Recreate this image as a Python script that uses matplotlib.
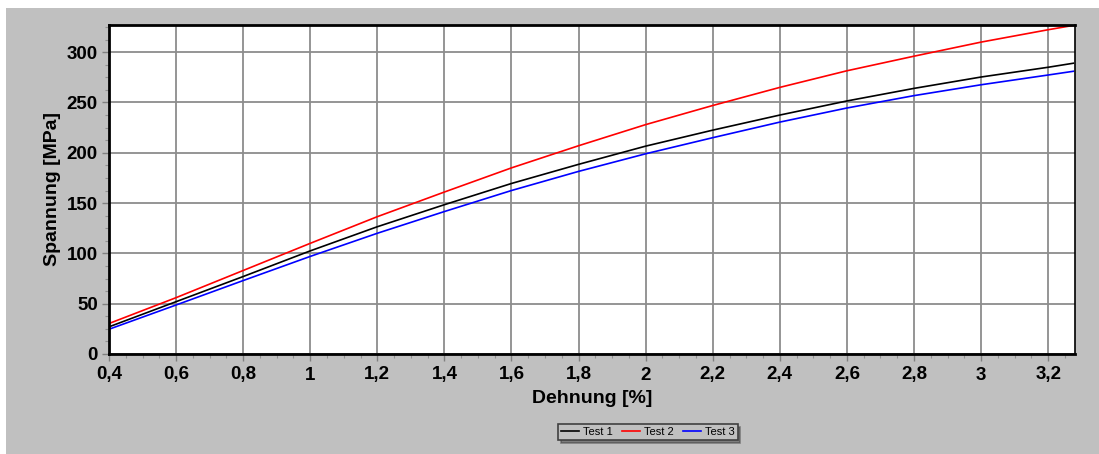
import matplotlib
matplotlib.use("Agg")
import matplotlib.pyplot as plt
from matplotlib.patches import Rectangle
from matplotlib.ticker import MultipleLocator

plt.rcParams['font.family'] = ['Liberation Sans', 'DejaVu Sans']

# Data
strain = [0.4, 0.6, 0.8, 1.0, 1.2, 1.4, 1.6, 1.8, 2.0, 2.2, 2.4, 2.6, 2.8, 3.0, 3.2, 3.275]
test1 = [27, 52, 77, 102.5, 126.5, 148.4, 169.5, 188.5, 206.6, 222.5, 237.5, 251.5, 264, 275.3, 285, 289]
test2 = [30.3, 56, 83, 110, 136.5, 161, 185, 207, 228, 247, 265, 281.5, 296, 310, 322.3, 326.6]
test3 = [24.6, 48.7, 73, 97, 120, 141.6, 162.5, 181.5, 199, 215, 230.5, 244.5, 256.8, 267.6, 277.3, 281]

x_ticks = [0.4, 0.6, 0.8, 1.0, 1.2, 1.4, 1.6, 1.8, 2.0, 2.2, 2.4, 2.6, 2.8, 3.0, 3.2]
x_labels = ['0,4', '0,6', '0,8', '1', '1,2', '1,4', '1,6', '1,8', '2', '2,2', '2,4', '2,6', '2,8', '3', '3,2']
y_ticks = [0, 50, 100, 150, 200, 250, 300]

W, H = 1099, 454
fig = plt.figure(figsize=(W / 100, H / 100), dpi=100, facecolor='white')
fig.patches.append(Rectangle((6 / W, 0), 1 - 6 / W, 1 - 8 / H, transform=fig.transFigure,
                             facecolor='#c0c0c0', edgecolor='none', zorder=-10))

ax = fig.add_axes([109 / W, (H - 354) / H, (1075 - 109) / W, (354 - 25) / H])
ax.set_facecolor('white')

ax.plot(strain, test1, color='black', lw=1.2, label='Test 1')
ax.plot(strain, test2, color='#ff0000', lw=1.2, label='Test 2')
ax.plot(strain, test3, color='#0000ff', lw=1.2, label='Test 3')

ax.set_xlim(0.4, 3.28)
ax.set_ylim(0, 327)
ax.set_xticks(x_ticks)
ax.set_xticklabels(x_labels)
ax.set_yticks(y_ticks)
ax.xaxis.set_minor_locator(MultipleLocator(0.05))
ax.yaxis.set_minor_locator(MultipleLocator(12.5))

ax.grid(True, which='major', color='#8c8c8c', lw=1.3)
ax.set_axisbelow(True)

for lab in ax.get_xticklabels() + ax.get_yticklabels():
    lab.set_fontweight('bold')
ax.tick_params(axis='both', which='major', labelsize=13.5, length=5, width=1, color='#808080', direction='out')
ax.tick_params(axis='both', which='minor', length=3, width=0.8, color='#909090', direction='out')
ax.tick_params(axis='x', pad=4)
ax.tick_params(axis='y', pad=3)

for side in ['left', 'bottom', 'top']:
    ax.spines[side].set_linewidth(2)
    ax.spines[side].set_color('black')
ax.spines['right'].set_linewidth(1.2)
ax.spines['right'].set_color('black')

ax.set_xlabel('Dehnung [%]', fontsize=14, fontweight='bold', labelpad=5)
ax.set_ylabel('Spannung [MPa]', fontsize=14, fontweight='bold', labelpad=4)

leg = fig.legend(loc='center', bbox_to_anchor=(648 / W, 1 - 432 / H), ncol=3,
                 fontsize=8, frameon=True, fancybox=False, shadow=True,
                 handlelength=1.6, handletextpad=0.4, columnspacing=0.8,
                 borderpad=0.25)
leg.get_frame().set_facecolor('#c0c0c0')
leg.get_frame().set_edgecolor('#404040')
leg.get_frame().set_linewidth(1.2)
for l in leg.get_lines():
    l.set_linewidth(1.2)

fig.savefig('out.png', dpi=100, facecolor='white')
